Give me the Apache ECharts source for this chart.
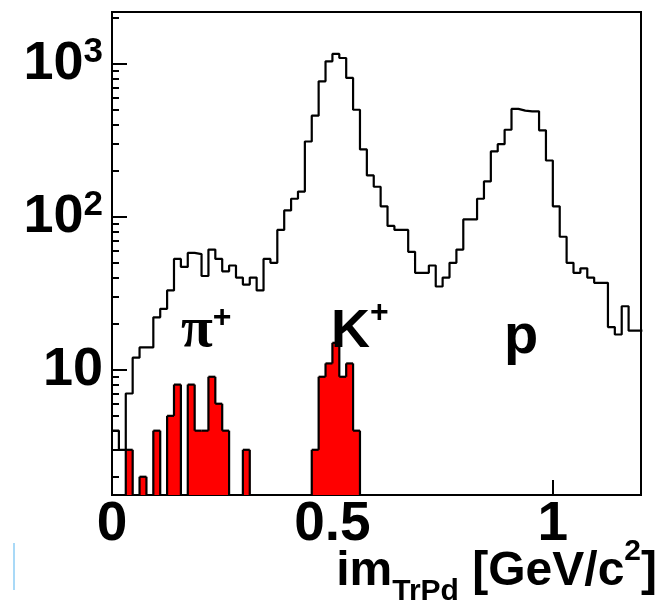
<!DOCTYPE html>
<html>
<head>
<meta charset="utf-8">
<script src="https://cdn.jsdelivr.net/npm/echarts@6/dist/echarts.min.js"></script>
<style>
html,body{margin:0;padding:0;background:#fff;}
#chart{width:662px;height:604px;}
</style>
</head>
<body>
<div id="chart"></div>
<script>
// Bin low edges (GeV/c^2), last entry is the upper edge of the last bin
const binEdges = [0, 0.015625, 0.03125, 0.046875, 0.0625, 0.078125, 0.09375, 0.109375, 0.125, 0.140625,
  0.15625, 0.171875, 0.1875, 0.203125, 0.21875, 0.234375, 0.25, 0.265625, 0.28125, 0.296875,
  0.3125, 0.328125, 0.34375, 0.359375, 0.375, 0.390625, 0.40625, 0.421875, 0.4375, 0.453125,
  0.46875, 0.484375, 0.5, 0.515625, 0.53125, 0.546875, 0.5625, 0.578125, 0.59375, 0.609375,
  0.625, 0.640625, 0.65625, 0.671875, 0.6875, 0.703125, 0.71875, 0.734375, 0.75, 0.765625,
  0.78125, 0.796875, 0.8125, 0.828125, 0.84375, 0.859375, 0.875, 0.890625, 0.90625, 0.921875,
  0.9375, 0.953125, 0.96875, 0.984375, 1, 1.015625, 1.03125, 1.046875, 1.0625, 1.078125,
  1.09375, 1.109375, 1.125, 1.140625, 1.15625, 1.171875, 1.1875, 1.203125];

// All tracks (open histogram)
const allCounts = [4, 3, 7, 12, 14, 14, 22, 25, 33, 53,
  47, 58, 57, 41, 61, 53, 44, 48, 40, 36,
  40, 33, 53, 50, 82, 110, 131, 146, 310, 457,
  766, 1035, 1157, 1089, 807, 500, 275, 186, 157, 117,
  87, 82, 82, 59, 43, 43, 48, 35, 40, 50,
  61, 96, 96, 131, 170, 267, 298, 370, 506, 493,
  488, 488, 367, 233, 117, 74, 50, 43, 46, 40,
  37, 37, 19, 17, 26, 18, 18];

// Selected tracks (red filled histogram)
const selCounts = [0, 0, 3, 0, 2, 0, 4, 0, 5, 8,
  0, 8, 4, 4, 9, 6, 4, 0, 0, 3,
  0, 0, 0, 0, 0, 0, 0, 0, 0, 3,
  9, 11, 15, 9, 11, 4, 0, 0, 0, 0,
  0, 0, 0, 0, 0, 0, 0, 0, 0, 0,
  0, 0, 0, 0, 0, 0, 0, 0, 0, 0,
  0, 0, 0, 0, 0, 0, 0, 0, 0, 0,
  0, 0, 0, 0, 0, 0, 0];

const xTickValues = [0, 0.5, 1];
const yMajorTicks = [10, 100, 1000];
const yMinorTicks = [2, 3, 4, 5, 6, 7, 8, 9, 20, 30, 40, 50, 60, 70, 80, 90,
  200, 300, 400, 500, 600, 700, 800, 900, 2000];
const yLabelText = {10: '{b|10}', 100: '{b|10}{s|2}', 1000: '{b|10}{s|3}'};
const xRange = [0, 1.2];
const yRange = [1.52, 2175];

const allLine = binEdges.map((e, i) => [e, allCounts[Math.min(i, allCounts.length - 1)]]);
const selData = selCounts.map((v, i) => [binEdges[i], binEdges[i + 1], v, i > 0 ? selCounts[i - 1] : 0]);

const chart = echarts.init(document.getElementById('chart'), null, {renderer: 'canvas'});
const FONT = 'Liberation Sans';

chart.setOption({
  animation: false,
  backgroundColor: '#fff',
  grid: {left: 112, right: 21, top: 12, bottom: 109, containLabel: false, outerBoundsMode: 'none',
    show: true, borderColor: '#000', borderWidth: 2, backgroundColor: 'transparent'},
  xAxis: {
    type: 'value', min: xRange[0], max: xRange[1],
    axisLine: {show: false},
    splitLine: {show: false},
    axisTick: {show: true, inside: true, length: 15, customValues: xTickValues, lineStyle: {color: '#000', width: 2}},
    axisLabel: {customValues: xTickValues, margin: 2, color: '#000', fontFamily: FONT, fontWeight: 'bold', fontSize: 55,
      formatter: v => String(v)}
  },
  yAxis: [{
    type: 'log', min: yRange[0], max: yRange[1], logBase: 10,
    axisLine: {show: false},
    splitLine: {show: false},
    axisTick: {show: true, inside: true, length: 15, customValues: yMajorTicks, lineStyle: {color: '#000', width: 2}},
    axisLabel: {customValues: yMajorTicks, margin: 9, color: '#000',
      formatter: v => yLabelText[Math.round(v)] || '',
      rich: {
        b: {fontFamily: FONT, fontWeight: 'bold', fontSize: 54, color: '#000', verticalAlign: 'middle', lineHeight: 58},
        s: {fontFamily: FONT, fontWeight: 'bold', fontSize: 35, color: '#000', verticalAlign: 'top', lineHeight: 36}
      }}
  }, {
    type: 'log', min: yRange[0], max: yRange[1], logBase: 10, position: 'left', offset: 0,
    axisLine: {show: false},
    splitLine: {show: false},
    axisTick: {show: true, inside: true, length: 7, customValues: yMinorTicks, lineStyle: {color: '#000', width: 2}},
    axisLabel: {show: false}
  }],
  graphic: [
    {type: 'text', left: 181, top: 302, z: 100, style: {text: '{p|π}{s|+}', rich: {
      p: {fontFamily: 'Liberation Serif', fontSize: 58, fontWeight: 'bold', fill: '#000', verticalAlign: 'bottom', lineHeight: 58},
      s: {fontFamily: FONT, fontWeight: 'bold', fontSize: 32, fill: '#000', verticalAlign: 'top', lineHeight: 30}}}},
    {type: 'text', left: 331, top: 297, z: 100, style: {text: '{k|K}{s|+}', rich: {
      k: {fontFamily: FONT, fontWeight: 'bold', fontSize: 54, fill: '#000', verticalAlign: 'bottom', lineHeight: 62},
      s: {fontFamily: FONT, fontWeight: 'bold', fontSize: 32, fill: '#000', verticalAlign: 'top', lineHeight: 30}}}},
    {type: 'text', left: 504, top: 310, z: 100, style: {text: 'p', fontFamily: FONT, fontWeight: 'bold', fontSize: 56, fill: '#000'}},
    {type: 'text', right: 5, top: 537, z: 100, style: {text: '{m|im}{sub|TrPd}{m| [GeV/c}{sup|2}{m|]}', rich: {
      m: {fontFamily: FONT, fontWeight: 'bold', fontSize: 48, fill: '#000', verticalAlign: 'middle', lineHeight: 70},
      sub: {fontFamily: FONT, fontWeight: 'bold', fontSize: 30, fill: '#000', verticalAlign: 'bottom', lineHeight: 30},
      sup: {fontFamily: FONT, fontWeight: 'bold', fontSize: 30, fill: '#000', verticalAlign: 'top', lineHeight: 40}}}},
    {type: 'rect', left: 13, top: 543, z: 100, shape: {width: 2, height: 47}, style: {fill: '#a9d9f7'}}
  ],
  series: [
    {
      type: 'line', xAxisIndex: 0, yAxisIndex: 0, data: allLine, step: 'end',
      symbol: 'none', lineStyle: {color: '#000', width: 2.2}, z: 5
    },
    {
      type: 'custom', xAxisIndex: 0, yAxisIndex: 0, data: selData, z: 4,
      renderItem: function (params, api) {
        const x0 = api.value(0), x1 = api.value(1), v = api.value(2), vp = api.value(3);
        const cs = params.coordSys;
        const base = cs.y + cs.height;
        const yOf = val => val > 0 ? api.coord([x0, val])[1] : base;
        const px0 = api.coord([x0, 10])[0], px1 = api.coord([x1, 10])[0];
        const yv = yOf(v), yp = yOf(vp);
        const children = [];
        if (v > 0) {
          children.push({type: 'rect', z2: 0, shape: {x: px0 - 0.5, y: yv, width: px1 - px0 + 1, height: base - yv}, style: {fill: '#ff0000'}});
          children.push({type: 'line', z2: 10, shape: {x1: px0, y1: yv, x2: px1, y2: yv}, style: {stroke: '#000', lineWidth: 2.2}});
        }
        if (yv !== yp) {
          children.push({type: 'line', z2: 10, shape: {x1: px0, y1: yp, x2: px0, y2: yv}, style: {stroke: '#000', lineWidth: 2.2}});
        }
        return {type: 'group', children: children};
      }
    }
  ]
});
</script>
</body>
</html>
